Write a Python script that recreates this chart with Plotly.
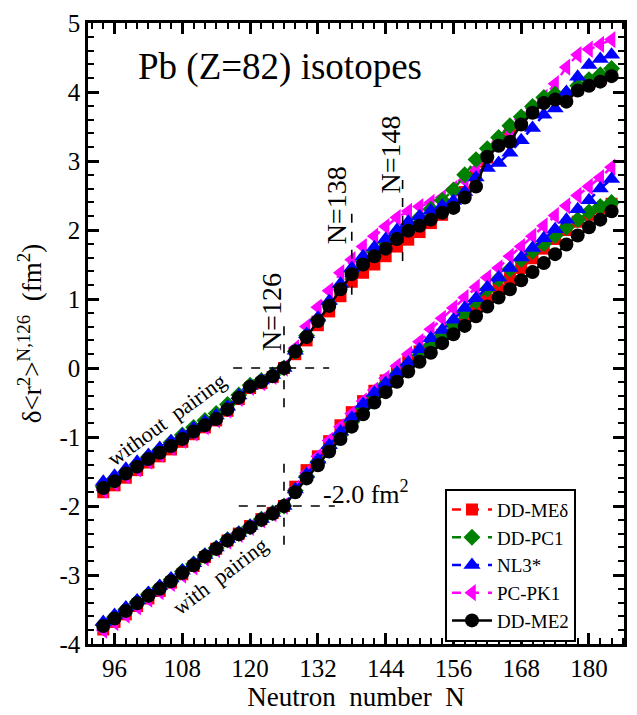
import plotly.graph_objects as go

# ---------------- data ----------------
N = list(range(94, 186, 2))

# without pairing (upper set)
me_delta_np = [-1.80, -1.70, -1.59, -1.48, -1.37, -1.28, -1.18, -1.07, -0.96, -0.86, -0.76, -0.62, -0.45, -0.29, -0.22, -0.13, 0.0,
               0.20, 0.40, 0.62, 0.82, 1.04, 1.25, 1.38, 1.50, 1.62, 1.76, 1.86, 1.97, 2.10, 2.22, 2.35, 2.55, 2.80, 3.05, 3.25, 3.42,
               3.58, 3.74, 3.87, 3.92, 3.90, 4.04, 4.12, 4.18, 4.26]
pc1_np = [-1.72, -1.62, -1.51, -1.40, -1.29, -1.19, -1.08, -0.97, -0.86, -0.76, -0.66, -0.53, -0.39, -0.25, -0.18, -0.10, 0.0,
          0.24, 0.47, 0.70, 0.93, 1.18, 1.40, 1.55, 1.68, 1.81, 1.94, 2.05, 2.18, 2.30, 2.43, 2.58, 2.80, 3.02, 3.18, 3.34, 3.51,
          3.64, 3.79, 3.92, 3.97, 3.97, 4.09, 4.18, 4.25, 4.34]
nl3_np = [-1.65, -1.56, -1.46, -1.36, -1.26, -1.16, -1.06, -0.97, -0.87, -0.78, -0.69, -0.56, -0.40, -0.26, -0.18, -0.10, 0.0,
          0.25, 0.49, 0.73, 0.97, 1.22, 1.45, 1.62, 1.75, 1.87, 2.00, 2.12, 2.20, 2.28, 2.35, 2.42, 2.55, 2.76, 2.90, 2.97, 3.12,
          3.30, 3.48, 3.67, 3.76, 4.00, 4.22, 4.39, 4.48, 4.54]
pk1_np = [-1.77, -1.67, -1.56, -1.46, -1.35, -1.25, -1.15, -1.05, -0.94, -0.85, -0.75, -0.61, -0.44, -0.28, -0.21, -0.12, 0.0,
          0.29, 0.60, 0.88, 1.12, 1.38, 1.57, 1.76, 1.91, 2.05, 2.18, 2.27, 2.34, 2.40, 2.47, 2.60, 2.72, 2.88, 3.10, 3.28, 3.44,
          3.60, 3.76, 3.92, 4.12, 4.36, 4.54, 4.62, 4.69, 4.76]
me2_np = [-1.74, -1.64, -1.53, -1.43, -1.32, -1.23, -1.13, -1.03, -0.92, -0.83, -0.74, -0.60, -0.43, -0.27, -0.20, -0.12, 0.0,
          0.24, 0.45, 0.68, 0.90, 1.14, 1.36, 1.50, 1.62, 1.73, 1.87, 1.99, 2.06, 2.15, 2.25, 2.32, 2.47, 2.63, 3.06, 3.22, 3.28,
          3.53, 3.70, 3.84, 3.89, 3.86, 4.02, 4.09, 4.15, 4.23]

# with pairing (lower set, shifted by -2.0 fm^2)
me_delta_p = [-3.79, -3.68, -3.57, -3.45, -3.34, -3.23, -3.11, -2.99, -2.87, -2.74, -2.62, -2.50, -2.40, -2.29, -2.19, -2.10, -2.0,
              -1.72, -1.48, -1.28, -1.06, -0.83, -0.64, -0.48, -0.33, -0.18, -0.04, 0.10, 0.24, 0.36, 0.48, 0.60, 0.72, 0.85, 0.99,
              1.14, 1.30, 1.45, 1.59, 1.73, 1.87, 2.00, 2.12, 2.22, 2.32, 2.38]
pc1_p = [-3.72, -3.61, -3.50, -3.39, -3.28, -3.18, -3.07, -2.95, -2.84, -2.72, -2.61, -2.49, -2.40, -2.30, -2.19, -2.10, -2.0,
         -1.78, -1.57, -1.36, -1.16, -0.97, -0.78, -0.58, -0.41, -0.24, -0.09, 0.05, 0.19, 0.33, 0.47, 0.62, 0.80, 0.97, 1.14,
         1.29, 1.43, 1.57, 1.69, 1.80, 1.92, 2.04, 2.15, 2.26, 2.34, 2.40]
nl3_p = [-3.68, -3.58, -3.47, -3.37, -3.26, -3.16, -3.05, -2.94, -2.83, -2.71, -2.60, -2.48, -2.39, -2.29, -2.19, -2.10, -2.0,
         -1.76, -1.54, -1.33, -1.12, -0.92, -0.72, -0.52, -0.36, -0.22, -0.07, 0.08, 0.27, 0.43, 0.55, 0.70, 0.87, 1.01, 1.17,
         1.31, 1.45, 1.60, 1.74, 1.88, 2.01, 2.15, 2.30, 2.43, 2.60, 2.74]
pk1_p = [-3.80, -3.69, -3.58, -3.46, -3.35, -3.24, -3.12, -3.00, -2.88, -2.75, -2.63, -2.51, -2.41, -2.31, -2.20, -2.11, -2.0,
         -1.75, -1.52, -1.28, -1.05, -0.85, -0.66, -0.48, -0.32, -0.15, 0.03, 0.20, 0.38, 0.56, 0.72, 0.87, 1.02, 1.17, 1.31,
         1.45, 1.62, 1.76, 1.91, 2.06, 2.21, 2.35, 2.50, 2.63, 2.76, 2.91]
me2_p = [-3.74, -3.63, -3.52, -3.41, -3.30, -3.20, -3.09, -2.97, -2.86, -2.73, -2.62, -2.50, -2.41, -2.31, -2.20, -2.11, -2.00,
         -1.80, -1.60, -1.41, -1.21, -1.03, -0.85, -0.67, -0.50, -0.35, -0.20, -0.05, 0.09, 0.22, 0.36, 0.49, 0.61, 0.75, 0.89,
         1.02, 1.14, 1.27, 1.39, 1.52, 1.65, 1.79, 1.92, 2.04, 2.15, 2.27]

x_ticks = [96, 108, 120, 132, 144, 156, 168, 180]
x_ticklabels = ["96", "108", "120", "132", "144", "156", "168", "180"]
y_ticks = [-4, -3, -2, -1, 0, 1, 2, 3, 4, 5]
y_ticklabels = ["-4", "-3", "-2", "-1", "0", "1", "2", "3", "4", "5"]

FONT = "Liberation Serif, Times New Roman, Times, serif"

# (name, color, symbol, size, dash, legend rank, upper, lower)
series = [
    ("DD-MEδ", "#ff0000", "square", 12, "dash", 1, me_delta_np, me_delta_p),
    ("PC-PK1", "#ff00ff", "triangle-left", 15, "dash", 4, pk1_np, pk1_p),
    ("DD-PC1", "#008000", "diamond", 13, "dash", 2, pc1_np, pc1_p),
    ("NL3*", "#0000ff", "triangle-up", 15, "dash", 3, nl3_np, nl3_p),
    ("DD-ME2", "#000000", "circle", 14, "solid", 5, me2_np, me2_p),
]

fig = go.Figure()
for name, col, sym, sz, dash, rank, up, lo in series:
    for k, yy in enumerate((up, lo)):
        fig.add_trace(go.Scatter(
            x=N, y=yy, mode="lines+markers", name=name,
            legendgroup=name, showlegend=(k == 0), legendrank=rank,
            line=dict(color=col, width=2.5, dash=dash),
            marker=dict(symbol=sym, size=sz, color=col, line=dict(width=0)),
        ))

# dashed guide lines
guides = [
    (117, 0, 134, 0), (126, -0.57, 126, 0.68),
    (118, -2, 135, -2), (126, -2.56, 126, -1.3),
    (138, 1.06, 138, 2.3), (147, 1.55, 147, 2.82),
]
for x0, y0, x1, y1 in guides:
    fig.add_shape(type="line", xref="x", yref="y", x0=x0, y0=y0, x1=x1, y1=y1,
                  line=dict(color="black", width=1.6, dash="dash"))

ann = [
    dict(x=125.3, y=4.36, text="Pb (Z=82) isotopes", size=37, angle=0),
    dict(x=123.7, y=0.81, text="N=126", size=28, angle=-90),
    dict(x=135.3, y=2.35, text="N=138", size=28, angle=-90),
    dict(x=144.9, y=3.09, text="N=148", size=28, angle=-90),
    dict(x=105.2, y=-0.74, text="without  pairing", size=22, angle=-36),
    dict(x=114.6, y=-3.02, text="with  pairing", size=22, angle=-37),
    dict(x=140.5, y=-1.80, text="-2.0 fm<sup>2</sup>", size=26, angle=0),
]
for a in ann:
    fig.add_annotation(x=a["x"], y=a["y"], xref="x", yref="y", text=a["text"],
                       showarrow=False, textangle=a["angle"],
                       font=dict(family=FONT, size=a["size"], color="black"))

axis_common = dict(showline=True, linecolor="black", linewidth=2.5, mirror="ticks",
                   ticks="inside", ticklen=11, tickwidth=2.5, tickcolor="black",
                   showgrid=False, zeroline=False,
                   tickfont=dict(family=FONT, size=25, color="black"))

fig.update_xaxes(range=[91.3, 186.2], tickvals=x_ticks, ticktext=x_ticklabels,
                 minor=dict(ticks="inside", ticklen=6, tickwidth=2, dtick=2, tick0=0, tickcolor="black", showgrid=False),
                 title=dict(text="Neutron  number  N", font=dict(family=FONT, size=27, color="black"), standoff=4),
                 **axis_common)
fig.update_yaxes(range=[-4, 5], tickvals=y_ticks, ticktext=y_ticklabels,
                 minor=dict(ticks="inside", ticklen=6, tickwidth=2, dtick=0.2, tick0=0, tickcolor="black", showgrid=False),
                 title=dict(text="δ&lt;r<sup>2</sup>&gt;<sup>N,126</sup>  (fm<sup>2</sup>)",
                            font=dict(family=FONT, size=27, color="black"), standoff=10),
                 **axis_common)

fig.update_layout(
    width=637, height=715,
    margin=dict(l=88, r=10, t=16, b=55),
    plot_bgcolor="white", paper_bgcolor="white",
    font=dict(family=FONT, color="black"),
    legend=dict(x=0.666, y=0.25, xanchor="left", yanchor="top",
                bordercolor="black", borderwidth=2, bgcolor="white",
                font=dict(family=FONT, size=19, color="black"),
                tracegroupgap=0, itemwidth=40),
)

fig.write_html("out.html")
